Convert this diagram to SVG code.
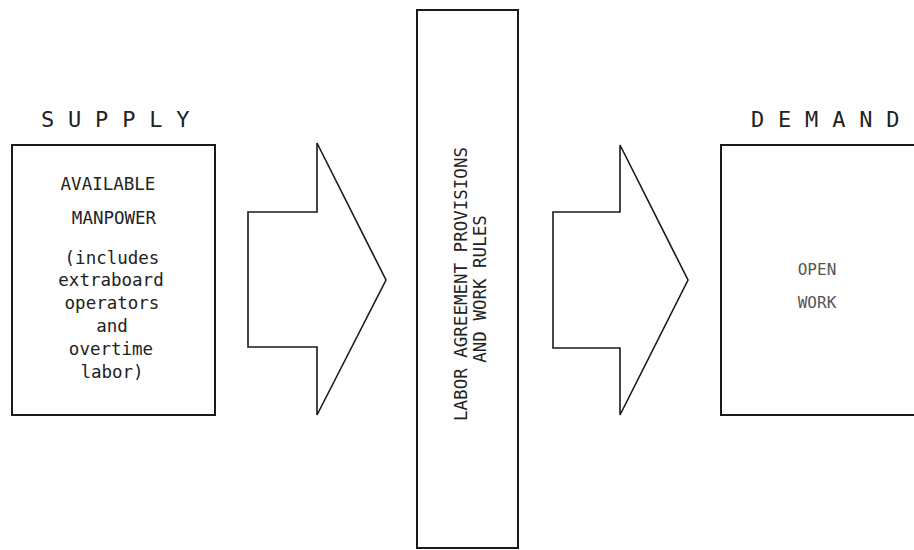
<svg xmlns="http://www.w3.org/2000/svg" width="914" height="550" viewBox="0 0 914 550">
<style>
.box{fill:none;stroke:#1a1a1a;stroke-width:2}
.arrow{fill:none;stroke:#1a1a1a;stroke-width:1.6;stroke-linejoin:miter}
.t{font-family:"DejaVu Sans Mono","Liberation Mono",monospace;font-size:17.5px;fill:#222;text-anchor:middle}
.h{font-family:"DejaVu Sans Mono","Liberation Mono",monospace;font-size:22px;fill:#222}
.light{fill:#555;font-size:16px}
</style>
<rect width="914" height="550" fill="#fff"/>
<g id="supply">
<text class="h" x="41" y="127" letter-spacing="13.8">SUPPLY</text>
<rect class="box" x="12" y="145" width="203" height="270"/>
<text class="t" x="108" y="190">AVAILABLE</text>
<text class="t" x="114" y="224">MANPOWER</text>
<text class="t" x="112" y="264">(includes</text>
<text class="t" x="111" y="286">extraboard</text>
<text class="t" x="112" y="309">operators</text>
<text class="t" x="112" y="332">and</text>
<text class="t" x="111" y="355">overtime</text>
<text class="t" x="112" y="378">labor)</text>
</g>
<g id="rules">
<rect class="box" x="417" y="10" width="101" height="538"/>
<text class="t" transform="translate(467,284) rotate(-90)">LABOR AGREEMENT PROVISIONS</text>
<text class="t" transform="translate(486,289) rotate(-90)">AND WORK RULES</text>
</g>
<g id="demand">
<text class="h" x="751" y="127" letter-spacing="13.8">DEMAND</text>
<rect class="box" x="721" y="145" width="200" height="270"/>
<text class="t light" x="817" y="275">OPEN</text>
<text class="t light" x="817" y="308">WORK</text>
</g>
<g id="connectors">
<polygon class="arrow" points="248,212 317,212 317,143 386,280 317,415 317,347 248,347"/>
<polygon class="arrow" points="553,212 620,212 620,145 688,280 620,415 620,348 553,348"/>
</g>
</svg>
